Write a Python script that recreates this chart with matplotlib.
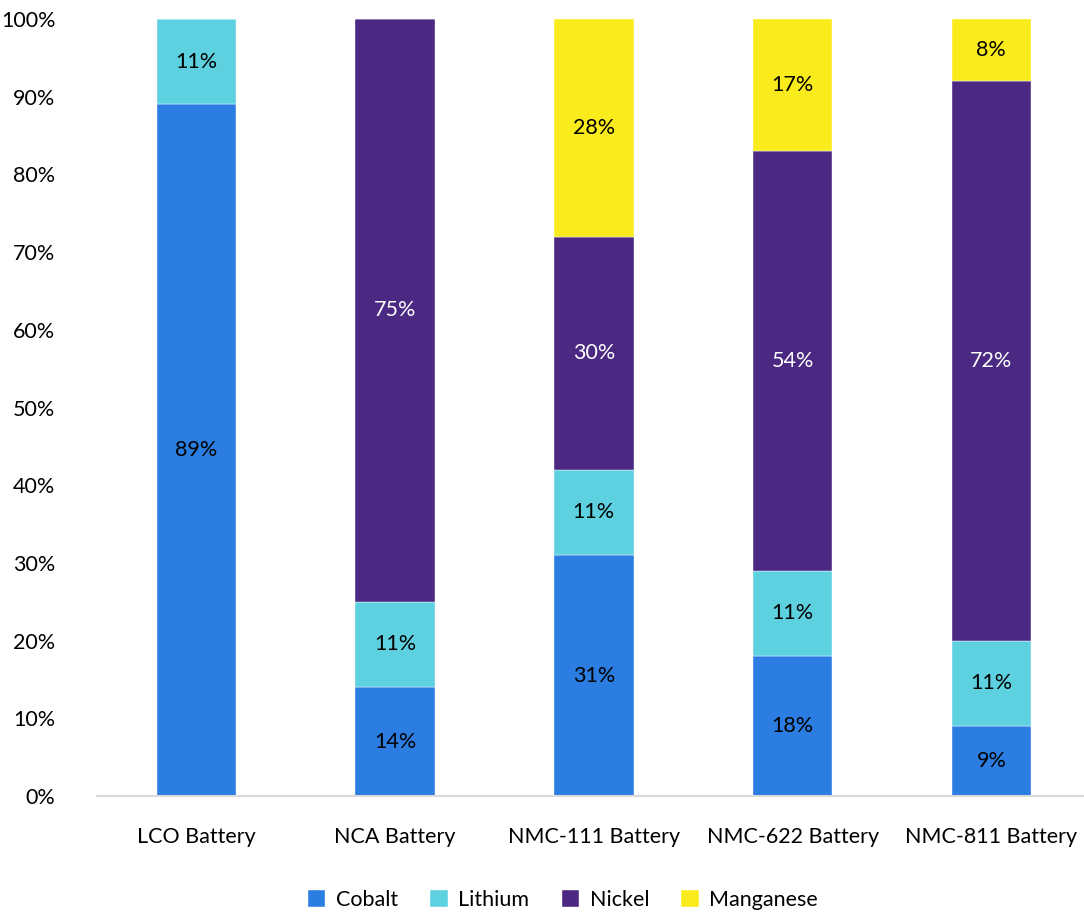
import matplotlib
matplotlib.use("Agg")
import matplotlib.pyplot as plt
import numpy as np

categories = ["LCO Battery", "NCA Battery", "NMC-111 Battery", "NMC-622 Battery", "NMC-811 Battery"]
series_names = ["Cobalt", "Lithium", "Nickel", "Manganese"]
cobalt = [89, 14, 31, 18, 9]
lithium = [11, 11, 11, 11, 11]
nickel = [0, 75, 30, 54, 72]
manganese = [0, 0, 28, 17, 8]
yticks = [0, 10, 20, 30, 40, 50, 60, 70, 80, 90, 100]

colors = ["#2B7DE1", "#5ED1E0", "#4B2882", "#FAEB1C"]
label_colors = ["black", "black", "white", "black"]

plt.rcParams['font.family'] = ['Lato', 'DejaVu Sans']
FS = 15.5

W, H = 1084, 915
fig = plt.figure(figsize=(W / 100, H / 100), dpi=100)
left = 97 / W
right = 1090.7 / W
bottom = 1 - 796 / H
top = 1 - 19 / H
ax = fig.add_axes([left, bottom, right - left, top - bottom])

x = np.arange(len(categories))
data = [cobalt, lithium, nickel, manganese]
base = np.zeros(len(categories))
handles = []
for name, vals, col, lc in zip(series_names, data, colors, label_colors):
    vals = np.array(vals, dtype=float)
    b = ax.bar(x, vals, 0.4, bottom=base, color=col, edgecolor="white", linewidth=0.3, label=name)
    handles.append(b)
    for xi, v, bo in zip(x, vals, base):
        if v > 0:
            ax.text(xi, bo + v / 2, f"{int(v)}%", ha="center", va="center", color=lc, fontsize=FS)
    base += vals

ax.set_xlim(-0.5, len(categories) - 0.5)
ax.set_ylim(0, 100)
ax.set_yticks(yticks)
ax.set_yticklabels([f"{t}%" for t in yticks], fontsize=FS)
ax.set_xticks(x)
ax.set_xticklabels(categories, fontsize=FS)
ax.tick_params(axis="y", length=0, pad=30)
ax.tick_params(axis="x", length=0, pad=22)
for s in ["top", "right", "left"]:
    ax.spines[s].set_visible(False)
ax.spines["bottom"].set_color("#D9D9D9")
ax.spines["bottom"].set_linewidth(1.5)
ax.spines["bottom"].set_clip_on(False)

fig.legend(handles=handles, labels=series_names, loc="center", bbox_to_anchor=(563 / W, 1 - 900 / H),
           ncol=4, frameon=False, fontsize=FS, handlelength=0.8, handleheight=0.8,
           handletextpad=0.5, columnspacing=1.5)

fig.savefig("out.png", dpi=100)
